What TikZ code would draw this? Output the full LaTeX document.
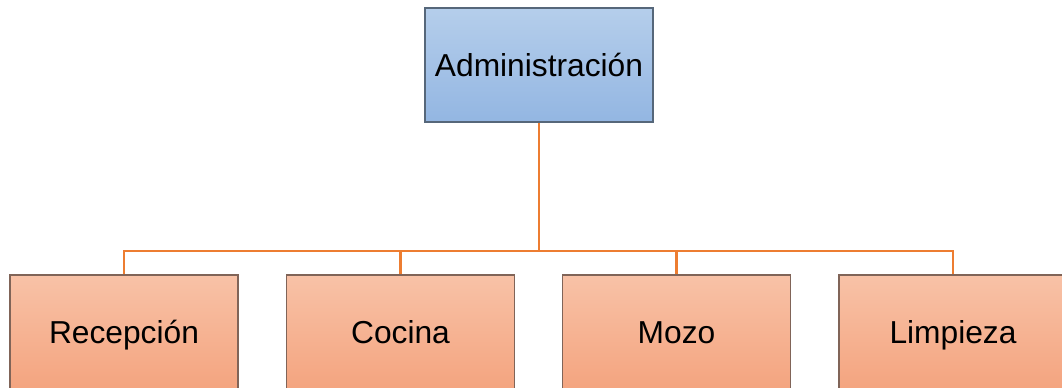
\documentclass[tikz,border=0pt]{standalone}
\usepackage{fontspec}
\setmainfont{Liberation Sans}
\usepackage{tikz}
\usetikzlibrary{positioning,calc}
\definecolor{linkorange}{HTML}{ED7D31}
\definecolor{bluetop}{HTML}{B5CEEB}
\definecolor{bluebot}{HTML}{93B6E2}
\definecolor{blueline}{HTML}{56677A}
\definecolor{peachtop}{HTML}{F8C2A7}
\definecolor{peachbot}{HTML}{F4A47F}
\definecolor{peachline}{HTML}{806458}

\begin{document}
\begin{tikzpicture}[
  x=0.75pt, y=-0.75pt,
  box/.style={draw,minimum width=171pt,minimum height=85.5pt,inner sep=0pt,
              line width=0.9pt,text height=17pt,text depth=0pt,
              font=\fontsize{23.8}{28}\selectfont},
  head/.style={box,draw=blueline,top color=bluetop,bottom color=bluebot},
  unit/.style={box,draw=peachline,top color=peachtop,bottom color=peachbot},
  link/.style={draw=linkorange,line width=1.9pt}
]
\clip (0,0) rectangle (1062,388);
\node[head] (admin) at (539,65) {Administración};
\node[unit] (recepcion) at (124,332) {Recepción};
\node[unit] (cocina) at (400.5,332) {Cocina};
\node[unit] (mozo) at (676.5,332) {Mozo};
\node[unit] (limpieza) at (953,332) {Limpieza};
\coordinate (bar) at (539,251);
\draw[link] (admin.south) -- (bar);
\foreach \n in {recepcion,cocina,mozo,limpieza}
  \draw[link] (bar) -| (\n.north);
\end{tikzpicture}
\end{document}
